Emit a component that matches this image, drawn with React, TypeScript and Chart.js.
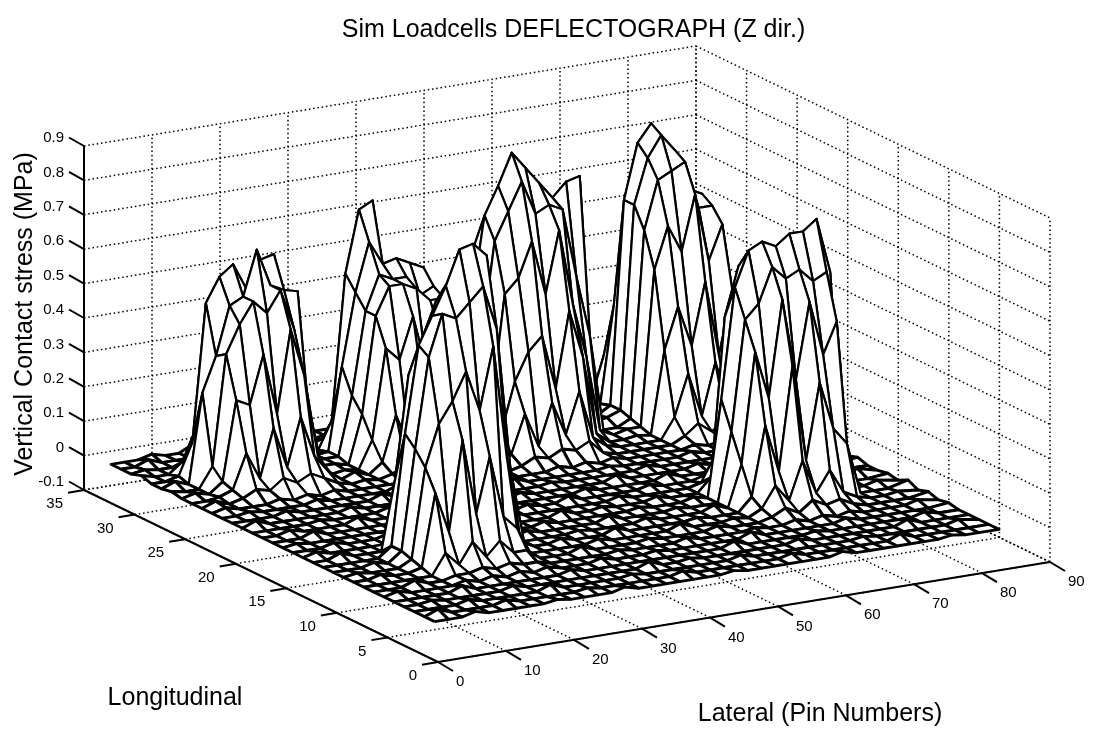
import React, { useEffect, useRef } from "react";
import { Chart, registerables } from "chart.js";

Chart.register(...registerables);

const titleText = "Sim Loadcells DEFLECTOGRAPH (Z dir.)";
const zAxisTitle = "Vertical Contact stress (MPa)";
const longAxisTitle = "Longitudinal";
const lateralAxisTitle = "Lateral (Pin Numbers)";

const lateralTicks = [0, 10, 20, 30, 40, 50, 60, 70, 80, 90];
const longTicks = [0, 5, 10, 15, 20, 25, 30, 35];
const zTicks = [-0.1, 0, 0.1, 0.2, 0.3, 0.4, 0.5, 0.6, 0.7, 0.8, 0.9];

const lateralPins = [1,3,5,7,9,11,13,15,17,19,21,23,25,27,29,31,33,35,37,39,41,43,45,47,49,51,53,55,57,59,61,63,65,67,69,71,73,75,77,79,81,84];
const longPins = [1,2,3,4,5,6,7,8,9,10,11,12,13,14,15,16,17,18,19,20,21,22,23,24,25,26,27,28,29,30,31,32,33];

// [row, column, value in thousandths of a MPa] for the small floor bumps
const floorBumps = [
  [0,3,10],[0,9,6],[0,14,10],[0,22,6],[0,30,10],[0,38,6],
  [1,1,15],[1,6,10],[1,12,6],[1,19,10],[1,27,10],[1,35,15],
  [2,4,10],[2,10,15],[2,16,6],[2,24,10],[2,33,6],[2,40,10],
  [3,2,6],[3,8,10],[3,18,15],[3,21,6],[3,29,10],[3,37,15],
  [4,5,15],[4,13,10],[4,25,15],[4,31,6],[4,39,10],
  [5,1,10],[5,16,10],[5,20,6],[5,27,15],[5,34,10],[5,41,6],
  [6,3,15],[6,18,6],[6,23,10],[6,28,6],[6,40,10],
  [7,16,15],[7,21,6],[7,26,10],[7,41,10],
  [8,2,10],[8,18,10],[8,24,15],[8,28,6],[8,40,6],
  [9,1,6],[9,16,10],[9,20,15],[9,26,6],[9,41,15],
  [10,3,10],[10,18,6],[10,23,10],[10,28,15],[10,40,10],
  [11,15,10],[11,21,15],[11,26,6],[11,41,6],
  [12,2,15],[12,17,10],[12,24,6],[12,28,10],[12,40,15],
  [13,1,10],[13,19,15],[13,22,6],[13,26,10],
  [14,3,10],[14,16,15],[14,24,10],[14,41,10],
  [15,1,6],[15,18,10],[15,21,15],[15,27,10],[15,40,6],[15,34,15],
  [16,3,15],[16,15,6],[16,23,10],[16,29,15],[16,41,10],
  [17,2,10],[17,7,15],[17,13,6],[17,19,10],[17,26,15],[17,32,10],[17,38,6],
  [18,5,6],[18,10,10],[18,16,15],[18,22,6],[18,29,10],[18,35,15],[18,40,6],
  [19,1,15],[19,8,10],[19,14,6],[19,20,15],[19,27,6],[19,33,10],[19,38,10],
  [20,4,10],[20,11,15],[20,17,10],[20,24,6],[20,30,15],[20,36,6],
  [21,2,6],[21,7,10],[21,13,15],[21,19,6],[21,31,10],
  [22,1,10],[22,31,10],
  [23,1,15],[23,12,6],[23,32,6],
  [24,2,6],[24,12,15],[24,32,10],
  [25,1,10],[25,12,6],
  [26,0,6],[26,12,10],[26,32,15],
  [27,1,15],[27,12,10],[27,32,6],
  [28,2,10],[28,12,6],[28,32,10],
  [29,0,10],[29,12,15],[29,32,6],
  [30,1,6],[30,12,10],[30,32,10],
  [31,2,15],[31,12,6],[31,32,6],[31,41,10],
  [32,3,10],[32,6,20],[32,8,15],[32,12,10],[32,18,15],[32,24,6],[32,33,10],[32,39,10],
];

// tyre patches, hundredths of a MPa; rows run along rising longitudinal pin
const tyreA = [
  [0,0,1,0,1,0,1,0,0],
  [1,3,2,5,3,5,3,1,0],
  [2,12,4,18,6,20,8,3,0],
  [3,26,24,38,20,44,30,6,0],
  [6,38,46,52,48,54,42,20,1],
  [26,36,50,52,65,54,52,51,1],
  [10,50,57,60,52,60,61,30,2],
  [3,12,20,28,30,26,20,8,1],
  [0,1,2,3,2,3,2,1,0],
];
const tyreB = [
  [0,0,0,1,0,1,0,1,0,0],
  [0,1,3,2,6,3,5,2,4,1],
  [0,3,16,6,22,8,20,6,14,1],
  [0,8,34,30,42,26,36,26,26,2],
  [0,14,42,50,50,48,44,44,36,3],
  [1,18,42,52,50,50,44,46,44,4],
  [1,25,46,60,53,54,52,50,57,4],
  [0,8,50,68,70,30,34,30,26,2],
  [0,1,6,10,12,8,8,6,4,1],
];
const tyreC = [
  [0,0,1,0,1,0,1,0,1,0,0],
  [0,0,1,1,2,1,2,1,1,0,0],
  [0,0,6,2,8,3,7,3,3,0,0],
  [0,1,22,10,36,14,30,12,8,0,0],
  [0,2,28,40,46,54,42,60,27,2,0],
  [0,3,32,58,70,68,72,76,63,22,0],
  [0,3,35,60,68,76,86,87,83,40,0],
  [0,0,20,50,60,70,76,82,78,30,0],
  [0,0,0,2,6,10,12,14,12,6,0],
  [0,0,0,1,2,2,3,3,2,1,0],
];
const tyreD = [
  [0,0,0,1,0,1,0,1,0,0,0],
  [0,1,3,2,4,3,5,1,0,0,0],
  [0,3,14,4,16,6,18,4,1,0,0],
  [0,8,22,30,34,18,40,26,3,0,0],
  [0,14,46,50,60,44,62,40,24,2,0],
  [0,30,60,68,76,66,68,66,46,28,0],
  [1,40,66,74,83,78,73,68,72,73,1],
  [1,30,56,60,66,62,58,68,60,40,1],
  [0,8,12,20,16,22,18,16,14,6,0],
  [0,1,3,5,4,5,4,3,2,1,0],
];
const tyreE = [
  [0,1,0,1,1,0,1,0,0],
  [0,2,5,2,5,3,6,2,0],
  [0,6,18,5,20,7,16,5,0],
  [0,24,36,24,42,20,38,18,0],
  [1,46,58,50,66,46,56,28,0],
  [2,56,70,72,74,60,60,40,0],
  [3,62,75,81,76,64,62,47,0],
  [3,62,78,83,74,66,60,44,0],
  [2,30,44,50,46,38,30,14,0],
  [1,14,22,24,20,16,12,4,0],
  [0,2,3,4,3,3,2,1,0],
];
const tyreF = [
  [0,0,1,0,1,0,1,0,0,0,0],
  [0,1,3,1,4,2,3,1,0,0,0],
  [0,2,8,3,14,4,10,3,1,0,0],
  [0,4,24,10,40,12,34,20,15,0,0],
  [0,12,44,30,58,34,56,40,49,0,0],
  [0,20,52,56,66,62,64,60,62,8,0],
  [0,28,60,70,72,70,73,73,76,60,0],
  [0,4,50,64,66,68,66,68,70,50,1],
  [0,1,8,12,14,16,16,14,12,6,0],
  [0,0,1,2,3,3,2,2,1,1,0],
];
// [patch, first column, first row]
const tyrePatches: [number[][], number, number][] = [
  [tyreA, 3, 22], [tyreB, 13, 22], [tyreC, 4, 5], [tyreD, 21, 20], [tyreE, 33, 20], [tyreF, 29, 6],
];

const zGrid: number[][] = longPins.map(() => lateralPins.map(() => 0));
floorBumps.forEach(([r, c, v]) => { zGrid[r][c] = v / 1000; });
tyrePatches.forEach(([patch, c0, r0]) => {
  patch.forEach((row, r) => row.forEach((v, c) => { zGrid[r0 + r][c0 + c] = v / 100; }));
});

// orthographic view of the box: pixel position of the front-bottom corner, and pixel steps per unit
const view = { ox: 438, oy: 662, xx: 612 / 90, xy: -100 / 90, yx: -354 / 35, yy: -172 / 35, zy: -344 };
const project = (x: number, y: number, z: number) => ({
  x: view.ox + x * view.xx + y * view.yx,
  y: view.oy + x * view.xy + y * view.yy + (z + 0.1) * view.zy,
});

const LEFT = 54, TOP = 45;
const X_MAX = 90, Y_MAX = 35, Z_MIN = -0.1, Z_MAX = 0.9;

function buildDatasets() {
  const sets: any[] = [];
  // surface first: dataset 0 is painted last, so the nearest facets go first
  for (let r = 0; r < longPins.length - 1; r++) {
    for (let c = 0; c < lateralPins.length - 1; c++) {
      const a = project(lateralPins[c], longPins[r], zGrid[r][c]);
      const b = project(lateralPins[c + 1], longPins[r], zGrid[r][c + 1]);
      const d = project(lateralPins[c + 1], longPins[r + 1], zGrid[r + 1][c + 1]);
      const e = project(lateralPins[c], longPins[r + 1], zGrid[r + 1][c]);
      const flat = Math.max(zGrid[r][c], zGrid[r][c + 1], zGrid[r + 1][c + 1], zGrid[r + 1][c]) < 0.05;
      sets.push({
        data: [a, b, d, e, a],
        borderColor: "#000",
        backgroundColor: "#fff",
        borderWidth: flat ? 2.9 : 2.2,
        borderJoinStyle: "round",
        fill: "shape",
        pointRadius: 0,
        tension: 0,
        clip: false,
      });
    }
  }
  const solid = (p: any, q: any) =>
    sets.push({ data: [p, q], borderColor: "#000", borderWidth: 2, pointRadius: 0, fill: false, clip: false });
  const dotted = (p: any, q: any) =>
    sets.push({ data: [p, q], borderColor: "#000", borderWidth: 1.5, borderDash: [1.5, 2.8], pointRadius: 0, fill: false, clip: false });
  const offset = (p: any, dx: number, dy: number) => ({ x: p.x + dx, y: p.y + dy });

  // axis lines and tick marks
  solid(project(0, Y_MAX, Z_MIN), project(0, Y_MAX, Z_MAX));
  solid(project(0, 0, Z_MIN), project(0, Y_MAX, Z_MIN));
  solid(project(0, 0, Z_MIN), project(X_MAX, 0, Z_MIN));
  zTicks.forEach((z) => { const p = project(0, Y_MAX, z); solid(p, offset(p, -15, -8.5)); });
  longTicks.forEach((y) => { const p = project(0, y, Z_MIN); solid(p, offset(p, -16, 2.7)); });
  lateralTicks.forEach((x) => { const p = project(x, 0, Z_MIN); solid(p, offset(p, 15, 9)); });

  // dotted grids on the two back walls and the floor
  zTicks.forEach((z) => {
    dotted(project(0, Y_MAX, z), project(X_MAX, Y_MAX, z));
    dotted(project(X_MAX, Y_MAX, z), project(X_MAX, 0, z));
  });
  lateralTicks.forEach((x) => {
    dotted(project(x, Y_MAX, Z_MIN), project(x, Y_MAX, Z_MAX));
    dotted(project(x, 0, Z_MIN), project(x, Y_MAX, Z_MIN));
  });
  longTicks.forEach((y) => {
    dotted(project(X_MAX, y, Z_MIN), project(X_MAX, y, Z_MAX));
    dotted(project(0, y, Z_MIN), project(X_MAX, y, Z_MIN));
  });
  return sets;
}

const labelsPlugin = {
  id: "boxLabels",
  afterDraw(chart: any) {
    const { ctx } = chart;
    const sx = (v: number) => chart.scales.x.getPixelForValue(v);
    const sy = (v: number) => chart.scales.y.getPixelForValue(v);
    ctx.save();
    ctx.fillStyle = "#000";
    ctx.textBaseline = "middle";
    ctx.font = "15px 'Liberation Sans'";
    ctx.textAlign = "right";
    zTicks.forEach((z) => {
      const p = project(0, Y_MAX, z);
      ctx.fillText(String(z), sx(p.x) - 20, sy(p.y) - 8);
    });
    longTicks.forEach((y) => {
      const p = project(0, y, Z_MIN);
      ctx.fillText(String(y), sx(p.x) - 21, sy(p.y) + 14);
    });
    ctx.textAlign = "left";
    lateralTicks.forEach((x) => {
      const p = project(x, 0, Z_MIN);
      ctx.fillText(String(x), sx(p.x) + 18, sy(p.y) + 20);
    });
    ctx.font = "25px 'Liberation Sans'";
    ctx.textAlign = "center";
    ctx.fillText(longAxisTitle, 175, 698);
    ctx.fillText(lateralAxisTitle, 820, 714);
    ctx.translate(25, 314);
    ctx.rotate(-Math.PI / 2);
    ctx.fillText(zAxisTitle, 0, 0);
    ctx.restore();
  },
};

export default function App() {
  const ref = useRef<HTMLCanvasElement>(null);
  useEffect(() => {
    document.body.style.margin = "0";
    const chart = new Chart(ref.current!, {
      type: "scatter",
      data: { datasets: buildDatasets() },
      plugins: [labelsPlugin],
      options: {
        animation: false,
        responsive: false,
        events: [],
        parsing: false,
        showLine: true,
        layout: { padding: { left: LEFT, top: 0, right: 0, bottom: 0 } },
        scales: {
          x: { type: "linear", display: false, min: LEFT, max: 1093 },
          y: { type: "linear", display: false, reverse: true, min: TOP, max: 731 },
        },
        plugins: {
          legend: { display: false },
          tooltip: { enabled: false },
          title: {
            display: true,
            text: titleText,
            fullSize: false,
            color: "#000",
            font: { family: "'Liberation Sans'", size: 25, weight: "normal", lineHeight: 1.2 },
            padding: { top: 15, bottom: 0 },
          },
        },
      },
    } as any);
    return () => chart.destroy();
  }, []);
  return <canvas ref={ref} width={1093} height={731} style={{ display: "block" }} />;
}
